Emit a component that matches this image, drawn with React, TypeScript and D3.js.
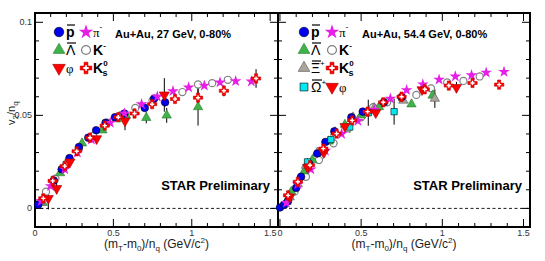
import React, { useRef, useEffect } from "react";
import * as d3 from "d3";

type Pt = number[]; // [x, v2/nq, err]

// ---------------- Au+Au 27 GeV ----------------
const pbar27: Pt[] = [[0.02, 0.002], [0.12, 0.015], [0.17, 0.021], [0.22, 0.027], [0.28, 0.033], [0.34, 0.038], [0.39, 0.042], [0.45, 0.046], [0.51, 0.049], [0.57, 0.051], [0.70, 0.054], [0.76, 0.059], [0.83, 0.057, 0.002]];
const pim27: Pt[] = [[0.04, 0.004], [0.1, 0.012], [0.19, 0.021], [0.27, 0.03], [0.36, 0.037], [0.48, 0.046], [0.57, 0.051], [0.68, 0.056], [0.78, 0.06], [0.88, 0.063], [0.98, 0.065], [1.08, 0.066], [1.18, 0.0677], [1.28, 0.0684], [1.38, 0.0682]];
const lbar27: Pt[] = [[0.05, 0.003], [0.16, 0.019], [0.3, 0.035], [0.43, 0.042], [0.52, 0.048], [0.58, 0.05], [0.71, 0.0487, 0.003], [0.84, 0.05, 0.004], [1.04, 0.0545, 0.01]];
const kmin27: Pt[] = [[0.03, 0.003], [0.07, 0.009], [0.13, 0.016], [0.2, 0.024], [0.28, 0.032], [0.37, 0.039], [0.46, 0.046], [0.55, 0.05], [0.64, 0.054], [0.75, 0.058], [0.94, 0.0625], [1.04, 0.0666], [1.13, 0.0673], [1.23, 0.0691, 0.002]];
const phi27: Pt[] = [[0.085, 0.0054, 0.006], [0.138, 0.0107, 0.003], [0.223, 0.025, 0.002], [0.393, 0.0375, 0.003], [0.574, 0.047, 0.005], [0.825, 0.061, 0.009]];
const k0s27: Pt[] = [[0.053, 0.0054], [0.113, 0.0148], [0.19, 0.0227], [0.266, 0.0307], [0.351, 0.038], [0.445, 0.0445], [0.531, 0.049], [0.635, 0.051], [0.747, 0.056], [0.893, 0.0588], [1.04, 0.0595, 0.005], [1.205, 0.0632, 0.003], [1.41, 0.0698, 0.005]];

// ---------------- Au+Au 54.4 GeV ----------------
const pbar54: Pt[] = [[0.0, 0.0005], [0.025, 0.002], [0.05, 0.004], [0.1, 0.011], [0.13, 0.017], [0.18, 0.024], [0.23, 0.0295], [0.28, 0.0357], [0.335, 0.0414], [0.44, 0.049], [0.51, 0.052], [0.64, 0.057], [0.75, 0.0598]];
const pim54: Pt[] = [[0.04, 0.003], [0.11, 0.013], [0.19, 0.021], [0.28, 0.031], [0.38, 0.04], [0.48, 0.047], [0.58, 0.053], [0.68, 0.059], [0.78, 0.0636], [0.88, 0.0667], [0.98, 0.0692], [1.08, 0.0709], [1.18, 0.0716], [1.27, 0.073], [1.38, 0.0734]];
const kmin54: Pt[] = [[0.03, 0.002], [0.09, 0.009], [0.16, 0.017], [0.24, 0.026], [0.33, 0.035], [0.42, 0.043], [0.5, 0.049], [0.574, 0.0544], [0.66, 0.057], [0.75, 0.059], [0.84, 0.061], [0.93, 0.0645], [1.03, 0.0677], [1.13, 0.0685], [1.23, 0.0709]];
const lbar54: Pt[] = [[0.04, 0.0036], [0.07, 0.009], [0.15, 0.02], [0.2, 0.026], [0.3, 0.036], [0.4, 0.045], [0.5, 0.05], [0.61, 0.0545], [0.81, 0.056], [0.94, 0.0607, 0.003]];
const xibar54: Pt[] = [[0.06, 0.006], [0.11, 0.013], [0.16, 0.023], [0.23, 0.03], [0.34, 0.041], [0.45, 0.049], [0.58, 0.054], [0.76, 0.058], [0.954, 0.059, 0.005]];
const ombar54: Pt[] = [[0.17, 0.025, 0.002], [0.314, 0.037, 0.002], [0.43, 0.0437, 0.003], [0.544, 0.0514, 0.007], [0.703, 0.052, 0.007]];
const phi54: Pt[] = [[0.06, 0.006], [0.17, 0.022], [0.27, 0.03], [0.4, 0.044], [0.59, 0.0514], [0.875, 0.0638, 0.002], [1.087, 0.065, 0.003]];
const k0s54: Pt[] = [[0.05, 0.007], [0.11, 0.0143], [0.185, 0.0232], [0.267, 0.0321], [0.349, 0.0402], [0.445, 0.0473], [0.54, 0.052], [0.636, 0.057], [0.749, 0.06], [0.892, 0.064], [1.04, 0.066], [1.186, 0.0674], [1.35, 0.0665]];

const xTickLabels = ["0", "0.5", "1", "1.5"];
const yTickLabels = ["0", "0.05", "0.1"];

// marker styles (ROOT-like)
const styles: any = {
  pbar: { type: d3.symbolCircle, fill: "#0000f0", stroke: "#000", size: 46 },
  pim: { type: d3.symbolStar, fill: "#e61ee6", stroke: "none", size: 42 },
  lbar: { type: d3.symbolTriangle, fill: "#3fb24a", stroke: "#2a7a30", size: 38 },
  kmin: { type: d3.symbolCircle, fill: "#fff", stroke: "#808080", size: 40 },
  phi: { type: d3.symbolTriangle, fill: "#ff0000", stroke: "#a00000", size: 44, rot: 180 },
  k0s: { type: d3.symbolCross, fill: "#ff0000", stroke: "#c00000", size: 48, inner: true },
  xibar: { type: d3.symbolTriangle, fill: "#aaa49a", stroke: "#555", size: 38 },
  ombar: { type: d3.symbolSquare, fill: "#00e8f0", stroke: "#000", size: 40 },
};

const FONT = "'Liberation Sans', Arial, Helvetica, sans-serif";

const yScale = d3.scaleLinear().domain([-0.01, 0.105]).range([227, 13]);

const drawMarker = (g: any, key: string, cx: number, cy: number, k = 1) => {
  const s = styles[key];
  const path = d3.symbol().type(s.type).size(s.size * k * k)();
  g.append("path")
    .attr("d", path)
    .attr("transform", `translate(${cx},${cy})${s.rot ? ` rotate(${s.rot})` : ""}`)
    .attr("fill", s.fill)
    .attr("stroke", s.stroke)
    .attr("stroke-width", key === "kmin" ? 1.2 : 0.6);
  if (s.inner) {
    g.append("path")
      .attr("d", d3.symbol().type(d3.symbolCross).size(10 * k * k)())
      .attr("transform", `translate(${cx},${cy})`)
      .attr("fill", "#fff");
  }
};

const drawPanel = (svg: any, x0: number, x1: number, domain: number[], sets: any[], title: string, legend: any[]) => {
  const xScale = d3.scaleLinear().domain(domain).range([x0, x1]);
  const g = svg.append("g");
  const yb = yScale.range()[0];
  const yt = yScale.range()[1];

  // ticks
  const xt = d3.range(0, 1.5001, 0.1);
  xt.forEach((v) => {
    const major = Math.abs(v / 0.5 - Math.round(v / 0.5)) < 1e-6;
    const len = major ? 8 : 4;
    const px = xScale(v);
    g.append("line").attr("x1", px).attr("x2", px).attr("y1", yb).attr("y2", yb - len).attr("stroke", "#000");
    g.append("line").attr("x1", px).attr("x2", px).attr("y1", yt).attr("y2", yt + len).attr("stroke", "#000");
  });
  const yt2 = d3.range(0, 0.1001, 0.01);
  yt2.forEach((v) => {
    const major = Math.abs(v / 0.05 - Math.round(v / 0.05)) < 1e-6;
    const len = major ? 8 : 4;
    const py = yScale(v);
    g.append("line").attr("x1", x0).attr("x2", x0 + len).attr("y1", py).attr("y2", py).attr("stroke", "#000");
    g.append("line").attr("x1", x1).attr("x2", x1 - len).attr("y1", py).attr("y2", py).attr("stroke", "#000");
  });

  g.append("g")
    .selectAll("text")
    .data(xTickLabels)
    .join("text")
    .attr("x", (d: string) => xScale(+d))
    .attr("y", yb + 9)
    .attr("text-anchor", "middle")
    .attr("font-size", 9)
    .attr("fill", "#333")
    .attr("font-family", FONT)
    .text((d: string) => d);

  // zero line
  g.append("line")
    .attr("x1", x0)
    .attr("x2", x1)
    .attr("y1", yScale(0))
    .attr("y2", yScale(0))
    .attr("stroke", "#000")
    .attr("stroke-width", 0.9)
    .attr("stroke-dasharray", "3,2.5");

  // frame
  g.append("rect")
    .attr("x", x0)
    .attr("y", yt)
    .attr("width", x1 - x0)
    .attr("height", yb - yt)
    .attr("fill", "none")
    .attr("stroke", "#000")
    .attr("stroke-width", 2);

  // data
  sets.forEach(([key, data]) => {
    data.forEach((d: Pt) => {
      if (d[2]) {
        g.append("line")
          .attr("x1", xScale(d[0]))
          .attr("x2", xScale(d[0]))
          .attr("y1", yScale(d[1] - d[2]))
          .attr("y2", yScale(d[1] + d[2]))
          .attr("stroke", "#000")
          .attr("stroke-width", 1);
      }
    });
  });
  sets.forEach(([key, data]) => {
    data.forEach((d: Pt) => drawMarker(g, key, xScale(d[0]), yScale(d[1])));
  });

  // title
  g.append("text")
    .attr("x", x0 + (title.indexOf("54") > 0 ? 84 : 80))
    .attr("y", 38)
    .attr("font-size", 11)
    .attr("font-weight", "bold")
    .attr("font-family", FONT)
    .text(title);

  g.append("text")
    .attr("x", x1 - 8)
    .attr("y", 190)
    .attr("text-anchor", "end")
    .attr("font-size", 13)
    .attr("font-weight", "bold")
    .attr("font-family", FONT)
    .text("STAR Preliminary");

  // x label
  const xl = g.append("text")
    .attr("x", (x0 + x1) / 2)
    .attr("y", 248)
    .attr("text-anchor", "middle")
    .attr("font-size", 12)
    .attr("fill", "#222")
    .attr("font-family", FONT);
  xl.append("tspan").text("(m");
  xl.append("tspan").attr("font-size", 8).attr("dy", 3).text("T");
  xl.append("tspan").attr("dy", -3).text("-m");
  xl.append("tspan").attr("font-size", 8).attr("dy", 3).text("0");
  xl.append("tspan").attr("dy", -3).text(")/n");
  xl.append("tspan").attr("font-size", 8).attr("dy", 3).text("q");
  xl.append("tspan").attr("dy", -3).text(" (GeV/c");
  xl.append("tspan").attr("font-size", 8).attr("dy", -5).text("2");
  xl.append("tspan").attr("dy", 5).text(")");

  // legend
  legend.forEach((it) => {
    drawMarker(g, it.key, it.x, it.y, 1.25);
    const t = g.append("text")
      .attr("x", it.x + 7)
      .attr("y", it.y + 5)
      .attr("font-size", it.serif ? 13 : 14)
      .attr("font-family", it.serif ? "'Liberation Serif', 'DejaVu Serif', serif" : FONT)
      .attr("font-weight", it.bold ? "bold" : "normal");
    t.append("tspan").text(it.label);
    if (it.sup) t.append("tspan").attr("font-size", 8).attr("dy", -7).text(it.sup);
    if (it.sub) t.append("tspan").attr("font-size", 9).attr("dx", -5).attr("dy", 10).text(it.sub);
    if (it.bar) {
      g.append("line")
        .attr("x1", it.x + 8)
        .attr("x2", it.x + 8 + it.bar)
        .attr("y1", it.y - 7)
        .attr("y2", it.y - 7)
        .attr("stroke", "#000")
        .attr("stroke-width", 1.2);
    }
  });
};

const App = () => {
  const svgRef = useRef(null);

  useEffect(() => {
    const svg = d3.select(svgRef.current);
    svg.selectAll("*").remove();

    drawPanel(
      svg, 35, 278, [0, 1.55],
      [["kmin", kmin27], ["lbar", lbar27], ["pbar", pbar27], ["pim", pim27], ["phi", phi27], ["k0s", k0s27]],
      "Au+Au, 27 GeV, 0-80%",
      [
        { key: "pbar", x: 59, y: 32, label: "p", bold: true, bar: 8 },
        { key: "pim", x: 86, y: 32, label: "π", sup: "-", serif: true },
        { key: "lbar", x: 59, y: 50, label: "Λ", bar: 9 },
        { key: "kmin", x: 86, y: 50, label: "K", sup: "-", bold: true },
        { key: "phi", x: 59, y: 68, label: "φ", serif: true },
        { key: "k0s", x: 86, y: 68, label: "K", sup: "0", sub: "s", bold: true },
      ]
    );

    drawPanel(
      svg, 278, 530, [-0.012, 1.54],
      [["kmin", kmin54], ["lbar", lbar54], ["xibar", xibar54], ["pbar", pbar54], ["pim", pim54], ["ombar", ombar54], ["phi", phi54], ["k0s", k0s54]],
      "Au+Au, 54.4 GeV, 0-80%",
      [
        { key: "pbar", x: 304, y: 32, label: "p", bold: true, bar: 8 },
        { key: "pim", x: 332, y: 32, label: "π", sup: "-", serif: true },
        { key: "lbar", x: 304, y: 50, label: "Λ", bar: 9 },
        { key: "kmin", x: 332, y: 50, label: "K", sup: "-", bold: true },
        { key: "xibar", x: 304, y: 68, label: "Ξ", sup: "+", bar: 9 },
        { key: "k0s", x: 332, y: 68, label: "K", sup: "0", sub: "s", bold: true },
        { key: "ombar", x: 304, y: 87, label: "Ω", sup: "+", bar: 10 },
        { key: "phi", x: 332, y: 87, label: "φ", serif: true },
      ]
    );

    // y tick labels (left panel only)
    svg.append("g")
      .selectAll("text")
      .data(yTickLabels)
      .join("text")
      .attr("x", 32)
      .attr("y", (d: string) => yScale(+d) + 3)
      .attr("text-anchor", "end")
      .attr("font-size", 9)
      .attr("fill", "#333")
      .attr("font-family", FONT)
      .text((d: string) => d);

    // y label
    const yl = svg.append("text")
      .attr("transform", "translate(15,125) rotate(-90)")
      .attr("font-size", 11)
      .attr("fill", "#222")
      .attr("font-family", FONT);
    yl.append("tspan").text("v");
    yl.append("tspan").attr("font-size", 8).attr("dy", 3).text("2");
    yl.append("tspan").attr("dy", -3).text("/n");
    yl.append("tspan").attr("font-size", 8).attr("dy", 3).text("q");
  }, []);

  return (
    <svg
      ref={svgRef}
      width={545}
      height={261}
      style={{ position: "absolute", left: 0, top: 0, background: "#fff" }}
    ></svg>
  );
};

export default App;
